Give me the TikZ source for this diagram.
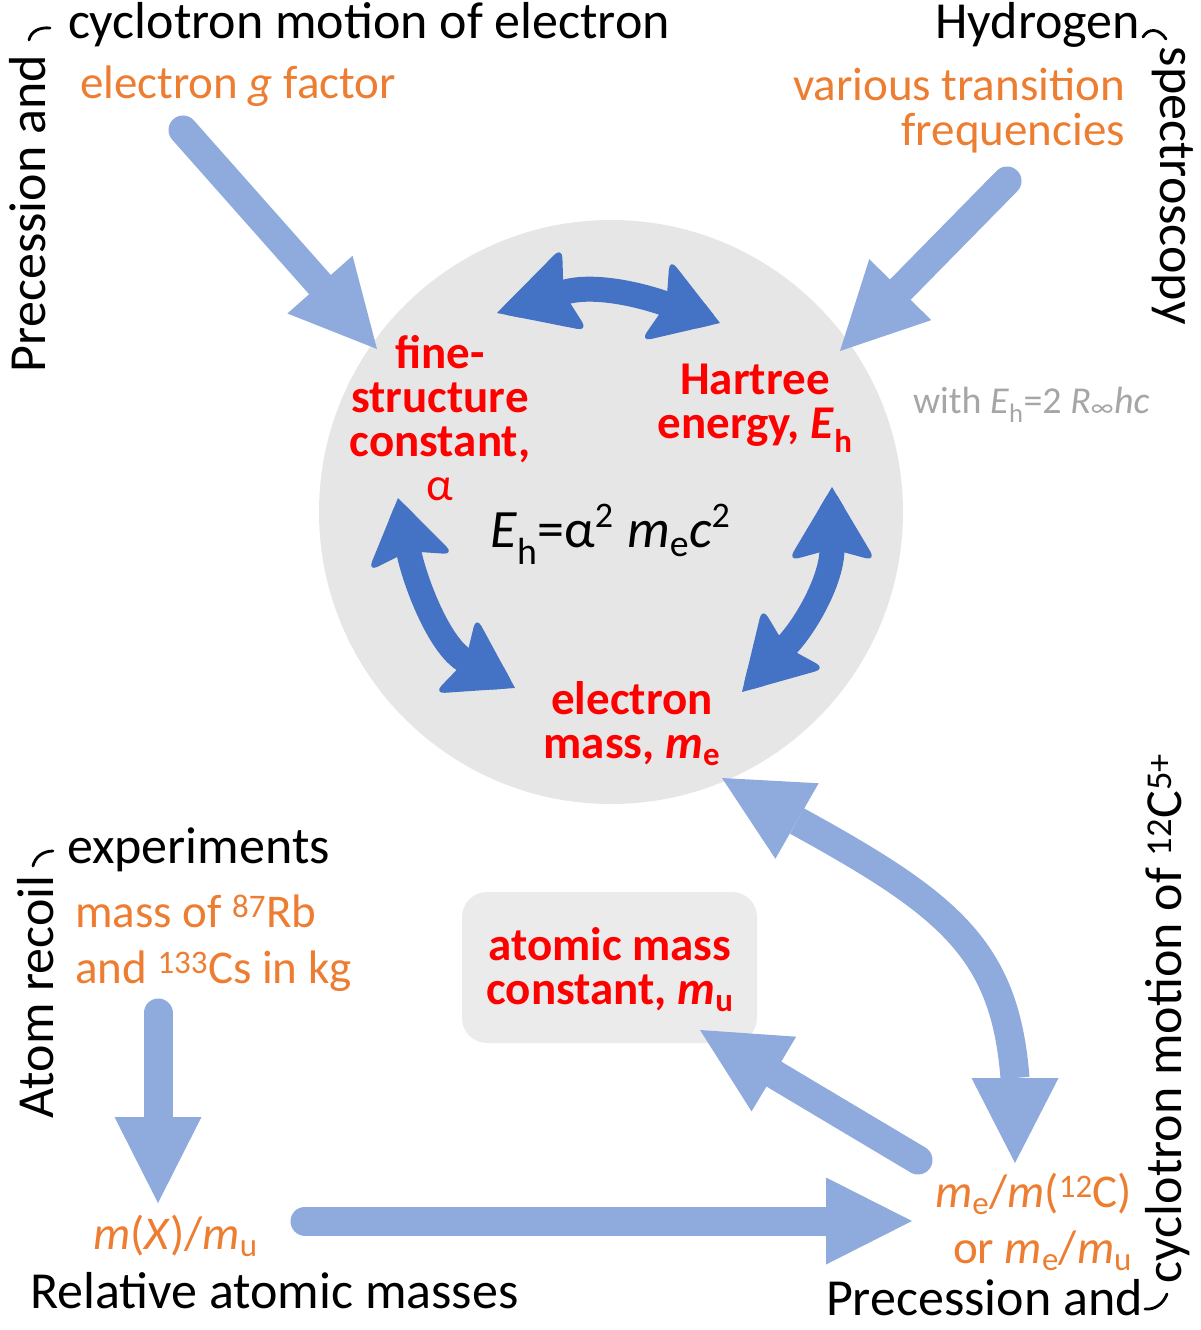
\documentclass[tikz,border=0pt]{standalone}
\usepackage{fontspec}
\setmainfont{Carlito}
\usetikzlibrary{calc}
\definecolor{lblue}{HTML}{8FAADC}
\definecolor{dblue}{HTML}{4472C4}
\definecolor{orng}{HTML}{ED7D31}
\definecolor{myred}{HTML}{FF0000}
\definecolor{gcirc}{HTML}{E7E6E6}
\definecolor{grect}{HTML}{EBEBEB}
\definecolor{gtext}{HTML}{A6A6A6}
\newcommand{\stackc}[1]{\vtop{\lineskiplimit=-200pt\halign{\hfil##\hfil\cr#1\crcr}}}
\newcommand{\stackl}[1]{\vtop{\lineskiplimit=-200pt\halign{##\hfil\cr#1\crcr}}}
\newcommand{\stackr}[1]{\vtop{\lineskiplimit=-200pt\halign{\hfil##\cr#1\crcr}}}
\newcommand{\lhead}[2]{\fill[lblue] ($(#2)!43.5pt!90:(#1)$) -- (#1) -- ($(#2)!43.5pt!-90:(#1)$) -- cycle;}
\newcommand{\dhead}[2]{%
  \coordinate (#1L) at ($(#2)!44pt!90:(#1)$);
  \coordinate (#1R) at ($(#2)!44pt!-90:(#1)$);
  \coordinate (#1N) at ($(#2)!12pt!(#1)$);
  \fill[dblue, rounded corners=11pt] (#1L) -- (#1) -- (#1R) -- (#1N) -- cycle;
  \fill[dblue] (#1) -- ($(#1)!24pt!(#1L)$) -- ($(#1)!24pt!(#1R)$) -- cycle;}
\newcommand{\bigsup}[1]{\raisebox{0.36em}{\fontsize{36}{36}\selectfont #1}}
\begin{document}
\begin{tikzpicture}[x=1pt,y=-1pt,
  lshaft/.style={draw=lblue, line width=29pt, line cap=round},
  dshaft/.style={draw=dblue, line width=25pt},
  brk/.style={draw=black, line width=2.8pt, line cap=round},
  blk/.style={font=\fontsize{52}{56}\selectfont, text=black, inner sep=0pt, outer sep=0pt},
  org/.style={font=\fontsize{47}{45}\selectfont, text=orng, inner sep=0pt, outer sep=0pt},
  rd/.style={font=\fontsize{47}{44}\selectfont\bfseries, text=myred, inner sep=0pt, outer sep=0pt},
  gry/.style={font=\fontsize{38}{40}\selectfont, text=gtext, inner sep=0pt, outer sep=0pt}]
\useasboundingbox (0,0) rectangle (1200,1330);
% backgrounds
\node[circle, fill=gcirc, minimum size=584pt, inner sep=0pt] (core) at (611,512) {};
\node[rectangle, rounded corners=25pt, fill=grect, minimum width=295pt, minimum height=151pt, inner sep=0pt] (mubox) at (609.5,967.5) {};
% light arrows
\coordinate (a1s) at (183,130); \coordinate (a1t) at (377,349);
\coordinate (a1b) at ($(a1t)!86pt!(a1s)$);
\draw[lshaft] (a1s) -- (a1b); \lhead{a1t}{a1b}
\coordinate (a2s) at (1007,181); \coordinate (a2t) at (840,351);
\coordinate (a2b) at ($(a2t)!86pt!(a2s)$);
\draw[lshaft] (a2s) -- (a2b); \lhead{a2t}{a2b}
\coordinate (a3s) at (158,1013); \coordinate (a3t) at (158,1203);
\coordinate (a3b) at ($(a3t)!86pt!(a3s)$);
\draw[lshaft] (a3s) -- (a3b); \lhead{a3t}{a3b}
\coordinate (a4s) at (305,1221); \coordinate (a4t) at (912,1221);
\coordinate (a4b) at ($(a4t)!86pt!(a4s)$);
\draw[lshaft] (a4s) -- (a4b); \lhead{a4t}{a4b}
\coordinate (a5s) at (918,1160); \coordinate (a5t) at (700,1030);
\coordinate (a5b) at ($(a5t)!86pt!(a5s)$);
\draw[lshaft] (a5s) -- (a5b); \lhead{a5t}{a5b}
\coordinate (a6t1) at (722,778); \coordinate (a6b1) at (797,821);
\coordinate (a6b2) at (1015,1078); \coordinate (a6t2) at (1015,1163);
\draw[lshaft, line cap=butt] (a6b1) .. controls (950,905) and (1005,950) .. (a6b2);
\lhead{a6t1}{a6b1} \lhead{a6t2}{a6b2}
% dark arrows
\coordinate (d1t1) at (497,313); \coordinate (d1c1) at (575,289);
\coordinate (d1t2) at (720,323); \coordinate (d1c2) at (655,300);
\dhead{d1t1}{d1c1} \dhead{d1t2}{d1c2}
\draw[dshaft] (d1t1N) .. controls ($(d1t1N)!-30pt!(d1t1)$) and ($(d1t2N)!-30pt!(d1t2)$) .. (d1t2N);
\coordinate (d2t1) at (398,498); \coordinate (d2c1) at (411,563);
\coordinate (d2t2) at (515,688); \coordinate (d2c2) at (455,655);
\dhead{d2t1}{d2c1} \dhead{d2t2}{d2c2}
\draw[dshaft] (d2t1N) .. controls ($(d2t1N)!-30pt!(d2t1)$) and ($(d2t2N)!-30pt!(d2t2)$) .. (d2t2N);
\coordinate (d3t1) at (832,487); \coordinate (d3c1) at (832,561);
\coordinate (d3t2) at (742,692); \coordinate (d3c2) at (794,638);
\dhead{d3t1}{d3c1} \dhead{d3t2}{d3c2}
\draw[dshaft] (d3t1N) .. controls ($(d3t1N)!-30pt!(d3t1)$) and ($(d3t2N)!-30pt!(d3t2)$) .. (d3t2N);
% black labels
\node[blk, anchor=base west] (cyc) at (68,38) {cyclotron motion of electron};
\node[blk, rotate=90, anchor=base west] (prec1) at (45,372) {Precession and};
\coordinate (k1a) at (29,40); \coordinate (k1b) at (50,28);
\draw[brk] (k1a) .. controls (31,31) and (40,27) .. (k1b);
\node[blk, anchor=base east] (hyd) at (1140,38) {Hydrogen};
\node[blk, rotate=-90, anchor=base west] (spec) at (1160,47) {spectroscopy};
\coordinate (k2a) at (1143,37); \coordinate (k2b) at (1166,39);
\draw[brk] (k2a) .. controls (1148,28) and (1159,28) .. (k2b);
\node[blk, anchor=base west] (exper) at (67,863) {experiments};
\node[blk, rotate=90, anchor=base west] (recoil) at (53,1118) {Atom recoil};
\coordinate (k3a) at (33,866); \coordinate (k3b) at (53,851);
\draw[brk] (k3a) .. controls (35,857) and (43,851) .. (k3b);
\node[blk, anchor=base west] (relat) at (30,1308) {Relative atomic masses};
\node[blk, anchor=base west] (prec2) at (826,1315) {Precession and};
\node[blk, rotate=90, anchor=base west] (cyc2) at (1181,1283) {cyclotron motion of \textsuperscript{12}C\textsuperscript{5+}};
\coordinate (k4a) at (1145,1309); \coordinate (k4b) at (1167,1294);
\draw[brk] (k4a) .. controls (1155,1310) and (1163,1304) .. (k4b);
% orange labels
\node[org, anchor=base west] (gfac) at (80,98) {electron \textit{g} factor};
\node[org, anchor=base east] (trans) at (1125,100) {\stackr{various transition\cr frequencies}};
\node[org, anchor=base west, font=\fontsize{47}{56}\selectfont] (kg) at (75,927) {\stackl{mass of \textsuperscript{87}Rb\cr and \textsuperscript{133}Cs in kg}};
\node[org, anchor=base west] (mx) at (93,1249) {\textit{m}(\textit{X})/\textit{m}\textsubscript{u}};
\node[org, anchor=base east, font=\fontsize{47}{56}\selectfont] (mec) at (1132,1207) {\stackr{\textit{m}\textsubscript{e}/\textit{m}(\textsuperscript{12}C)\cr or \textit{m}\textsubscript{e}/\textit{m}\textsubscript{u}}};
% red labels
\node[rd, anchor=base] (alpha) at (440,368) {\stackc{fine-\cr structure\cr constant,\cr {\mdseries α}}};
\node[rd, anchor=base] (hartree) at (755,394) {\stackc{Hartree\cr energy, \textit{E}\textsubscript{h}}};
\node[rd, anchor=base] (me) at (632,714) {\stackc{electron\cr mass, \textit{m}\textsubscript{e}}};
\node[rd, anchor=base] (mu) at (610,960) {\stackc{atomic mass\cr constant, \textit{m}\textsubscript{u}}};
% formula and note
\node[anchor=base west, inner sep=0pt, font=\fontsize{54}{56}\selectfont] (formula) at (490,547) {\textit{E}\textsubscript{h}=α\bigsup{2}\hspace{14pt}\textit{m}\textsubscript{e}\textit{c}\bigsup{2}};
\node[gry, anchor=base west] (with) at (913,413) {with \textit{E}\textsubscript{h}=2 \textit{R}\textsubscript{∞}\textit{hc}};
\end{tikzpicture}
\end{document}
